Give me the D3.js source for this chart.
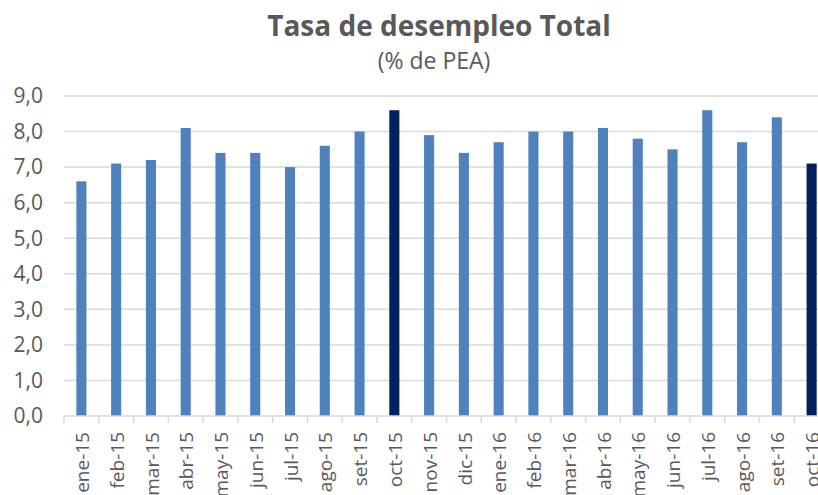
<!DOCTYPE html>
<html>
<head>
<meta charset="utf-8">
<script src="https://cdn.jsdelivr.net/npm/d3@7"></script>
<style>
  body { margin: 0; background: #fff; }
  svg { display: block; }
</style>
</head>
<body>
<div id="chart"></div>
<script>
// months and unemployment rate (% de PEA)
var months = ["ene-15", "feb-15", "mar-15", "abr-15", "may-15", "jun-15", "jul-15", "ago-15", "set-15", "oct-15",
              "nov-15", "dic-15", "ene-16", "feb-16", "mar-16", "abr-16", "may-16", "jun-16", "jul-16", "ago-16", "set-16", "oct-16"];
var rates = [6.6, 7.1, 7.2, 8.1, 7.4, 7.4, 7.0, 7.6, 8.0, 8.6,
             7.9, 7.4, 7.7, 8.0, 8.0, 8.1, 7.8, 7.5, 8.6, 7.7, 8.4, 7.1];
var highlighted = ["oct-15", "oct-16"];
var yTicks = [0, 1, 2, 3, 4, 5, 6, 7, 8, 9];

var W = 818, H = 495;
var margin = {top: 96, left: 64, bottom: 79};
var plotW = 765, plotH = H - margin.top - margin.bottom;

var svg = d3.select("#chart").append("svg")
    .attr("width", W)
    .attr("height", H);

var font = "'Open Sans', sans-serif";

// title
svg.append("text")
    .attr("x", 439).attr("y", 36)
    .attr("text-anchor", "middle")
    .style("font-family", font)
    .style("font-weight", "bold")
    .style("font-size", "28px")
    .style("fill", "#595959")
    .text("Tasa de desempleo Total");

svg.append("text")
    .attr("x", 434).attr("y", 69)
    .attr("text-anchor", "middle")
    .style("font-family", font)
    .style("font-size", "23px")
    .style("fill", "#595959")
    .text("(% de PEA)");

var g = svg.append("g")
    .attr("transform", "translate(" + margin.left + "," + margin.top + ")");

var x = d3.scaleBand()
    .domain(months)
    .range([0, plotW])
    .paddingInner(0.71)
    .paddingOuter(0.355);

var y = d3.scaleLinear()
    .domain([0, 9])
    .range([plotH, 0]);

// gridlines
g.selectAll(".grid")
  .data(yTicks.slice(1))
  .enter().append("line")
    .attr("x1", 0).attr("x2", plotW)
    .attr("y1", function(d) { return y(d); })
    .attr("y2", function(d) { return y(d); })
    .attr("stroke", "#d9d9d9")
    .attr("stroke-width", 1.5);

// y labels
g.selectAll(".ylab")
  .data(yTicks)
  .enter().append("text")
    .attr("x", -21)
    .attr("y", function(d) { return y(d); })
    .attr("dy", "0.35em")
    .attr("text-anchor", "end")
    .style("font-family", font)
    .style("font-size", "21px")
    .style("fill", "#595959")
    .text(function(d) { return d.toFixed(1).replace(".", ","); });

// bars
g.selectAll(".bar")
  .data(months)
  .enter().append("rect")
    .attr("x", function(d) { return x(d); })
    .attr("width", x.bandwidth())
    .attr("y", function(d, i) { return y(rates[i]); })
    .attr("height", function(d, i) { return plotH - y(rates[i]); })
    .attr("fill", function(d) { return highlighted.indexOf(d) >= 0 ? "#002060" : "#4f81bd"; });

// x axis line and ticks at category boundaries
g.append("line")
    .attr("x1", 0).attr("x2", plotW)
    .attr("y1", plotH).attr("y2", plotH)
    .attr("stroke", "#d9d9d9")
    .attr("stroke-width", 1.5);

var step = x.step();
g.selectAll(".tick")
  .data(d3.range(months.length + 1))
  .enter().append("line")
    .attr("x1", function(d) { return d * step; })
    .attr("x2", function(d) { return d * step; })
    .attr("y1", plotH).attr("y2", plotH + 7)
    .attr("stroke", "#d9d9d9")
    .attr("stroke-width", 1.5);

// rotated month labels
g.selectAll(".xlab")
  .data(months)
  .enter().append("text")
    .attr("transform", function(d) {
      return "translate(" + (x(d) + x.bandwidth() / 2 + 1) + "," + (plotH + 16) + ") rotate(-90)";
    })
    .attr("dy", "0.35em")
    .attr("text-anchor", "end")
    .style("font-family", font)
    .style("font-size", "19px")
    .style("fill", "#595959")
    .text(function(d) { return d; });
</script>
</body>
</html>
